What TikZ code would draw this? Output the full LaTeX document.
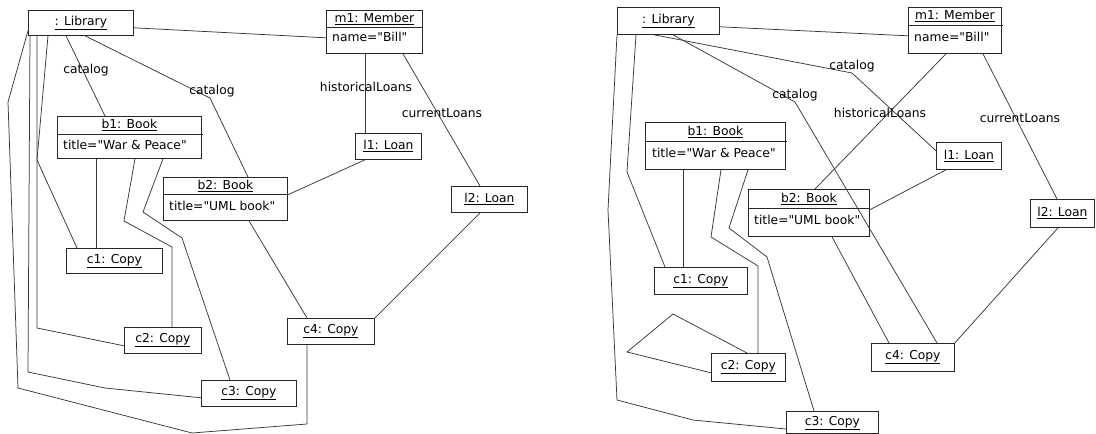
\documentclass[tikz,border=0pt]{standalone}
\usepackage{fontspec}
\setmainfont{DejaVu Sans}
\usetikzlibrary{calc}
\begin{document}
\begin{tikzpicture}[x=1pt,y=-1pt,
  obj/.style={draw=black!85, line width=0.8pt, inner sep=0pt, anchor=north west},
  txt/.style={inner sep=0pt, font=\fontsize{12.3}{14}\selectfont, text=black},
  lnk/.style={draw=black!78, line width=0.75pt, line join=miter},
  lbl/.style={inner sep=0pt, font=\fontsize{12.3}{14}\selectfont, text=black}]
\useasboundingbox (0,0) rectangle (1096,434);
% ============ LEFT DIAGRAM ============
\node[obj, minimum width=105pt, minimum height=25pt] (libA) at (28,10) {};
\node[txt] at (libA.center) {\underline{: Library}};
\node[obj, minimum width=96pt, minimum height=43pt] (mA) at (326,10) {};
\node[txt] at ([yshift=-9pt]mA.north) {\underline{m1: Member}};
\draw[obj] ([yshift=-17pt]mA.north west) -- ([yshift=-17pt]mA.north east);
\node[txt, anchor=west] at ([xshift=6pt,yshift=-27pt]mA.north west) {name=\textquotedbl Bill\textquotedbl};
\node[obj, minimum width=144pt, minimum height=42pt] (b1A) at (57,116) {};
\node[txt] at ([yshift=-9pt]b1A.north) {\underline{b1: Book}};
\draw[obj] ([yshift=-18pt]b1A.north west) -- ([yshift=-18pt,xshift=1.5pt]b1A.north east);
\node[txt, anchor=west] at ([xshift=6pt,yshift=-29pt]b1A.north west) {title=\textquotedbl War \& Peace\textquotedbl};
\node[obj, minimum width=124pt, minimum height=43pt] (b2A) at (163,177) {};
\node[txt] at ([yshift=-9pt]b2A.north) {\underline{b2: Book}};
\draw[obj] ([yshift=-17pt]b2A.north west) -- ([yshift=-17pt]b2A.north east);
\node[txt, anchor=west] at ([xshift=6pt,yshift=-29pt]b2A.north west) {title=\textquotedbl UML book\textquotedbl};
\node[obj, minimum width=66pt, minimum height=26pt] (l1A) at (355,133) {};
\node[txt] at (l1A.center) {\underline{l1: Loan}};
\node[obj, minimum width=76pt, minimum height=26pt] (l2A) at (451,186) {};
\node[txt] at (l2A.center) {\underline{l2: Loan}};
\node[obj, minimum width=96pt, minimum height=25pt] (c1A) at (66,248) {};
\node[txt] at (c1A.center) {\underline{c1: Copy}};
\node[obj, minimum width=77pt, minimum height=26pt] (c2A) at (124,327) {};
\node[txt] at (c2A.center) {\underline{c2: Copy}};
\node[obj, minimum width=95pt, minimum height=26pt] (c3A) at (201,380) {};
\node[txt] at (c3A.center) {\underline{c3: Copy}};
\node[obj, minimum width=87pt, minimum height=26pt] (c4A) at (287,318) {};
\node[txt] at (c4A.center) {\underline{c4: Copy}};
% links
\draw[lnk] ([yshift=8pt]libA.south east) -- ([yshift=16pt]mA.south west);
\draw[lnk] ([xshift=38pt]libA.south west) -- ([xshift=48pt]b1A.north west);
\node[lbl] (catA1) at (86,70) {catalog};
\coordinate (kA1) at (210,98);
\draw[lnk] ([xshift=57pt]libA.south west) -- (kA1) -- ([xshift=85pt]b2A.north west);
\node[lbl] (catA2) at (212,91) {catalog};
\draw[lnk] ([xshift=39pt]mA.south west) -- ([xshift=10pt]l1A.north west);
\node[lbl] (hlA) at (366,87) {historicalLoans};
\draw[lnk] ([xshift=77pt]mA.south west) -- ([xshift=29pt]l2A.north west);
\node[lbl] (clA) at (442,113) {currentLoans};
\draw[lnk] ([xshift=10pt]l1A.south west) -- ([yshift=26pt]b2A.south east);
\draw[lnk] ([xshift=29pt]l2A.south west) -- (c4A.north east);
\draw[lnk] ([xshift=86pt]b2A.south west) -- ([xshift=20pt]c4A.north west);
\draw[lnk] ([xshift=39pt]b1A.south west) -- ([xshift=30pt]c1A.north west);
\coordinate (kA2) at (124,221); \coordinate (kA3) at (172,247);
\draw[lnk] ([xshift=78pt]b1A.south west) -- (kA2) -- (kA3) -- ([xshift=48pt]c2A.north west);
\coordinate (kA4) at (143,212); \coordinate (kA5) at (182,238);
\draw[lnk] ([xshift=106pt]b1A.south west) -- (kA4) -- (kA5) -- ([xshift=29pt]c3A.north west);
\coordinate (kA6) at (37,160);
\draw[lnk] ([xshift=20pt]libA.south west) -- (kA6) -- ([xshift=11pt]c1A.north west);
\coordinate (kA7) at (37,328);
\draw[lnk] ([xshift=9pt]libA.south west) -- (kA7) -- ([yshift=8pt]c2A.south west);
\coordinate (kA8) at (28,372); \coordinate (kA9) at (105,388);
\draw[lnk] ([xshift=2pt]libA.south west) -- (kA8) -- (kA9) -- ([yshift=9pt]c3A.south west);
\coordinate (kA10) at (8,102); \coordinate (kA11) at (18,388);
\coordinate (kA12) at (192,433); \coordinate (kA13) at (307,424);
\draw[lnk] ([yshift=5pt]libA.south west) -- (kA10) -- (kA11) -- (kA12) -- (kA13) -- ([xshift=20pt]c4A.south west);
% ============ RIGHT DIAGRAM ============
\node[obj, minimum width=102pt, minimum height=27pt] (libB) at (617,7) {};
\node[txt] at (libB.center) {\underline{: Library}};
\node[obj, minimum width=93pt, minimum height=46pt] (mB) at (908,7) {};
\node[txt] at ([yshift=-9pt]mB.north) {\underline{m1: Member}};
\draw[obj] ([yshift=-18pt]mB.north west) -- ([yshift=-18pt,xshift=1.5pt]mB.north east);
\node[txt, anchor=west] at ([xshift=6pt,yshift=-30pt]mB.north west) {name=\textquotedbl Bill\textquotedbl};
\node[obj, minimum width=140pt, minimum height=47pt] (b1B) at (645,122) {};
\node[txt] at ([yshift=-10pt]b1B.north) {\underline{b1: Book}};
\draw[obj] ([yshift=-19pt]b1B.north west) -- ([yshift=-19pt,xshift=1.5pt]b1B.north east);
\node[txt, anchor=west] at ([xshift=7pt,yshift=-31pt]b1B.north west) {title=\textquotedbl War \& Peace\textquotedbl};
\node[obj, minimum width=121pt, minimum height=47pt] (b2B) at (748,189) {};
\node[txt] at ([yshift=-10pt]b2B.north) {\underline{b2: Book}};
\draw[obj] ([yshift=-19pt]b2B.north west) -- ([yshift=-19pt]b2B.north east);
\node[txt, anchor=west] at ([xshift=6pt,yshift=-31pt]b2B.north west) {title=\textquotedbl UML book\textquotedbl};
\node[obj, minimum width=65pt, minimum height=27pt] (l1B) at (936,142) {};
\node[txt] at (l1B.center) {\underline{l1: Loan}};
\node[obj, minimum width=64pt, minimum height=28pt] (l2B) at (1030,199) {};
\node[txt] at (l2B.center) {\underline{l2: Loan}};
\node[obj, minimum width=93pt, minimum height=27pt] (c1B) at (654,267) {};
\node[txt] at (c1B.center) {\underline{c1: Copy}};
\node[obj, minimum width=74pt, minimum height=28pt] (c2B) at (711,353) {};
\node[txt] at (c2B.center) {\underline{c2: Copy}};
\node[obj, minimum width=92pt, minimum height=22pt] (c3B) at (786,411) {};
\node[txt] at ([yshift=-12pt]c3B.north) {\underline{c3: Copy}};
\node[obj, minimum width=83pt, minimum height=28pt] (c4B) at (871,343) {};
\node[txt] at (c4B.center) {\underline{c4: Copy}};
% links
\draw[lnk] ([yshift=8pt]libB.south east) -- ([yshift=18pt]mB.south west);
\coordinate (kB1) at (852,73);
\draw[lnk] ([xshift=37pt]libB.south west) -- (kB1) -- ([yshift=19pt]l1B.south west);
\node[lbl] (catB1) at (852,66) {catalog};
\coordinate (kB2) at (795,102);
\draw[lnk] ([xshift=56pt]libB.south west) -- (kB2) -- ([xshift=66pt]c4B.north west);
\node[lbl] (catB2) at (795,95) {catalog};
\draw[lnk] ([xshift=38pt]mB.south west) -- ([xshift=67pt]b2B.north west);
\node[lbl] (hlB) at (880,113) {historicalLoans};
\draw[lnk] ([xshift=75pt]mB.south west) -- ([xshift=27pt]l2B.north west);
\node[lbl] (clB) at (1020,118) {currentLoans};
\draw[lnk] ([xshift=10pt]l1B.south west) -- ([yshift=27pt]b2B.south east);
\draw[lnk] ([xshift=28pt]l2B.south west) -- (c4B.north east);
\draw[lnk] ([xshift=84pt]b2B.south west) -- ([xshift=18pt]c4B.north west);
\draw[lnk] ([xshift=38pt]b1B.south west) -- ([xshift=29pt]c1B.north west);
\coordinate (kB3) at (711,237); \coordinate (kB4) at (758,266);
\draw[lnk] ([xshift=76pt]b1B.south west) -- (kB3) -- (kB4) -- ([xshift=47pt]c2B.north west);
\coordinate (kB5) at (729,228); \coordinate (kB6) at (767,257);
\draw[lnk] ([xshift=103pt]b1B.south west) -- (kB5) -- (kB6) -- ([xshift=28pt]c3B.north west);
\coordinate (kB7) at (627,172);
\draw[lnk] ([xshift=19pt]libB.south west) -- (kB7) -- ([xshift=11pt]c1B.north west);
\coordinate (kB8) at (608,210); \coordinate (kB9) at (617,400); \coordinate (kB10) at (693,420);
\draw[lnk] (libB.south west) -- (kB8) -- (kB9) -- (kB10) -- ([yshift=-18pt]c3B.north west);
\coordinate (kB11) at (627,352); \coordinate (kB12) at (673,314);
\draw[lnk] ([yshift=9pt]c2B.south west) -- (kB11) -- (kB12) -- ([xshift=36pt]c2B.north west);
\end{tikzpicture}
\end{document}
